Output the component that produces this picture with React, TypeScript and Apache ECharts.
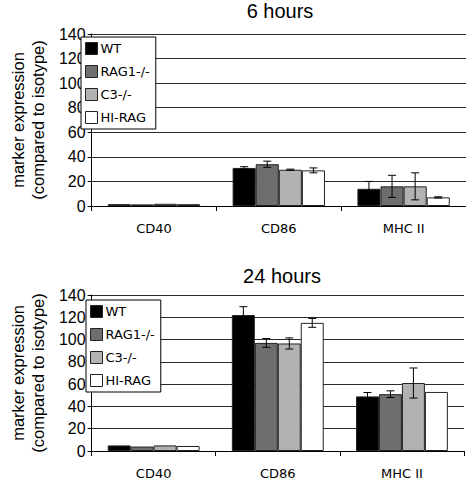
import React, { useEffect, useRef } from "react";
import * as echarts from "echarts";

const categories = ["CD40", "CD86", "MHC II"];
const groups = ["WT", "RAG1-/-", "C3-/-", "HI-RAG"];
const colors = ["#000000", "#6e6e6e", "#b2b2b2", "#ffffff"];

const wt6 = [1.5, 31, 14];
const rag6 = [1.3, 34, 16];
const c36 = [1.8, 29.5, 16];
const hi6 = [1.5, 29, 7];
const wt6Err = [0, 1, 6];
const rag6Err = [0, 2.5, 9];
const c36Err = [0, 0.5, 11];
const hi6Err = [0, 2, 0.5];

const wt24 = [5, 122, 49];
const rag24 = [4, 97, 51];
const c324 = [5, 96.5, 61];
const hi24 = [4.5, 115, 53];
const wt24Err = [0, 7.5, 3.5];
const rag24Err = [0, 4, 3];
const c324Err = [0, 5, 13.5];
const hi24Err = [0, 4, 0];

const yTicks = [0, 20, 40, 60, 80, 100, 120, 140];

const GAP = 0.26;

export default function App() {
  const ref = useRef<HTMLDivElement>(null);
  useEffect(() => {
    if (!ref.current) return;
    const chart = echarts.init(ref.current, undefined, { renderer: "svg" });
    const sets = [
      { vals: [wt6, rag6, c36, hi6], errs: [wt6Err, rag6Err, c36Err, hi6Err] },
      { vals: [wt24, rag24, c324, hi24], errs: [wt24Err, rag24Err, c324Err, hi24Err] },
    ];
    const series: any[] = [];
    sets.forEach((set, ci) => {
      set.vals.forEach((v, gi) => {
        series.push({
          type: "bar",
          name: groups[gi],
          xAxisIndex: ci,
          yAxisIndex: ci,
          data: v,
          barGap: "0%",
          barCategoryGap: GAP * 100 + "%",
          itemStyle: { color: colors[gi], borderColor: "#222", borderWidth: 1 },
        });
      });
      set.errs.forEach((e, gi) => {
        series.push({
          type: "custom",
          name: "err" + ci + gi,
          xAxisIndex: ci,
          yAxisIndex: ci,
          z: 10,
          data: e
            .map((d, k) => [k, set.vals[gi][k] - d, set.vals[gi][k] + d, d])
            .filter((r) => r[3] > 0),
          renderItem: (params: any, api: any) => {
            const idx = api.value(0);
            const lo = api.coord([idx, api.value(1)]);
            const hi = api.coord([idx, api.value(2)]);
            const band = api.size([1, 0])[0];
            const total = band * (1 - GAP);
            const bw = total / 4;
            const x = lo[0] - total / 2 + (gi + 0.5) * bw;
            const cap = 4;
            const st = { stroke: "#000", lineWidth: 1 };
            return {
              type: "group",
              children: [
                { type: "line", shape: { x1: x, y1: lo[1], x2: x, y2: hi[1] }, style: st },
                { type: "line", shape: { x1: x - cap, y1: lo[1], x2: x + cap, y2: lo[1] }, style: st },
                { type: "line", shape: { x1: x - cap, y1: hi[1], x2: x + cap, y2: hi[1] }, style: st },
              ],
            };
          },
        });
      });
    });

    const mkX = (i: number) => ({
      type: "category",
      gridIndex: i,
      data: categories,
      axisLine: { lineStyle: { color: "#000", width: 1 } },
      axisTick: { show: true, length: 5, lineStyle: { color: "#000" } },
      axisLabel: { color: "#000", fontSize: 13, fontFamily: "DejaVu Sans", margin: 16 },
    });
    const mkY = (i: number, gap: number) => ({
      type: "value",
      gridIndex: i,
      min: 0,
      max: 140,
      interval: 20,
      name: "marker expression\n(compared to isotype)",
      nameLocation: "middle",
      nameRotate: 90,
      nameGap: gap,
      nameTextStyle: { color: "#000", fontSize: 16.5, fontFamily: "Liberation Sans", lineHeight: 20 },
      axisLine: { show: true, lineStyle: { color: "#000", width: 1 } },
      axisTick: { show: true, length: 4, lineStyle: { color: "#000" } },
      axisLabel: {
        color: "#000",
        fontSize: 16,
        fontFamily: "Liberation Sans",
        margin: 6,
        formatter: (v: number) => (yTicks.includes(v) ? String(v) : ""),
      },
      splitLine: { show: true, lineStyle: { color: "#2a2a2a", width: 1 } },
    });
    const mkLegend = (left: number, top: number) => ({
      orient: "vertical",
      left,
      top,
      data: groups,
      itemWidth: 12,
      itemHeight: 12,
      itemGap: 10,
      padding: [5, 6, 5, 4],
      backgroundColor: "#fff",
      borderColor: "#000",
      borderWidth: 1,
      selectedMode: false,
      icon: "rect",
      textStyle: { color: "#000", fontSize: 13, fontFamily: "DejaVu Sans", padding: [0, 0, 0, -2] },
      itemStyle: { borderColor: "#222", borderWidth: 1 },
    });

    chart.setOption({
      animation: false,
      backgroundColor: "#fff",
      title: [
        { text: "6 hours", left: 275, top: -4, textAlign: "center", textStyle: { fontSize: 20, fontWeight: "normal", fontFamily: "Liberation Sans", color: "#000" } },
        { text: "24 hours", left: 277, top: 261, textAlign: "center", textStyle: { fontSize: 20, fontWeight: "normal", fontFamily: "Liberation Sans", color: "#000" } },
      ],
      grid: [
        { left: 77, right: 0, top: 34, height: 172 },
        { left: 83, right: 2, top: 295, height: 157 },
      ],
      legend: [mkLegend(81, 37), mkLegend(86, 300)],
      xAxis: [mkX(0), mkX(1)],
      yAxis: [mkY(0, 39), mkY(1, 37)],
      series,
    });
    return () => chart.dispose();
  }, []);
  return (
    <div
      ref={ref}
      style={{ position: "fixed", left: 0, top: 0, width: 466, height: 480, background: "#fff" }}
    />
  );
}
